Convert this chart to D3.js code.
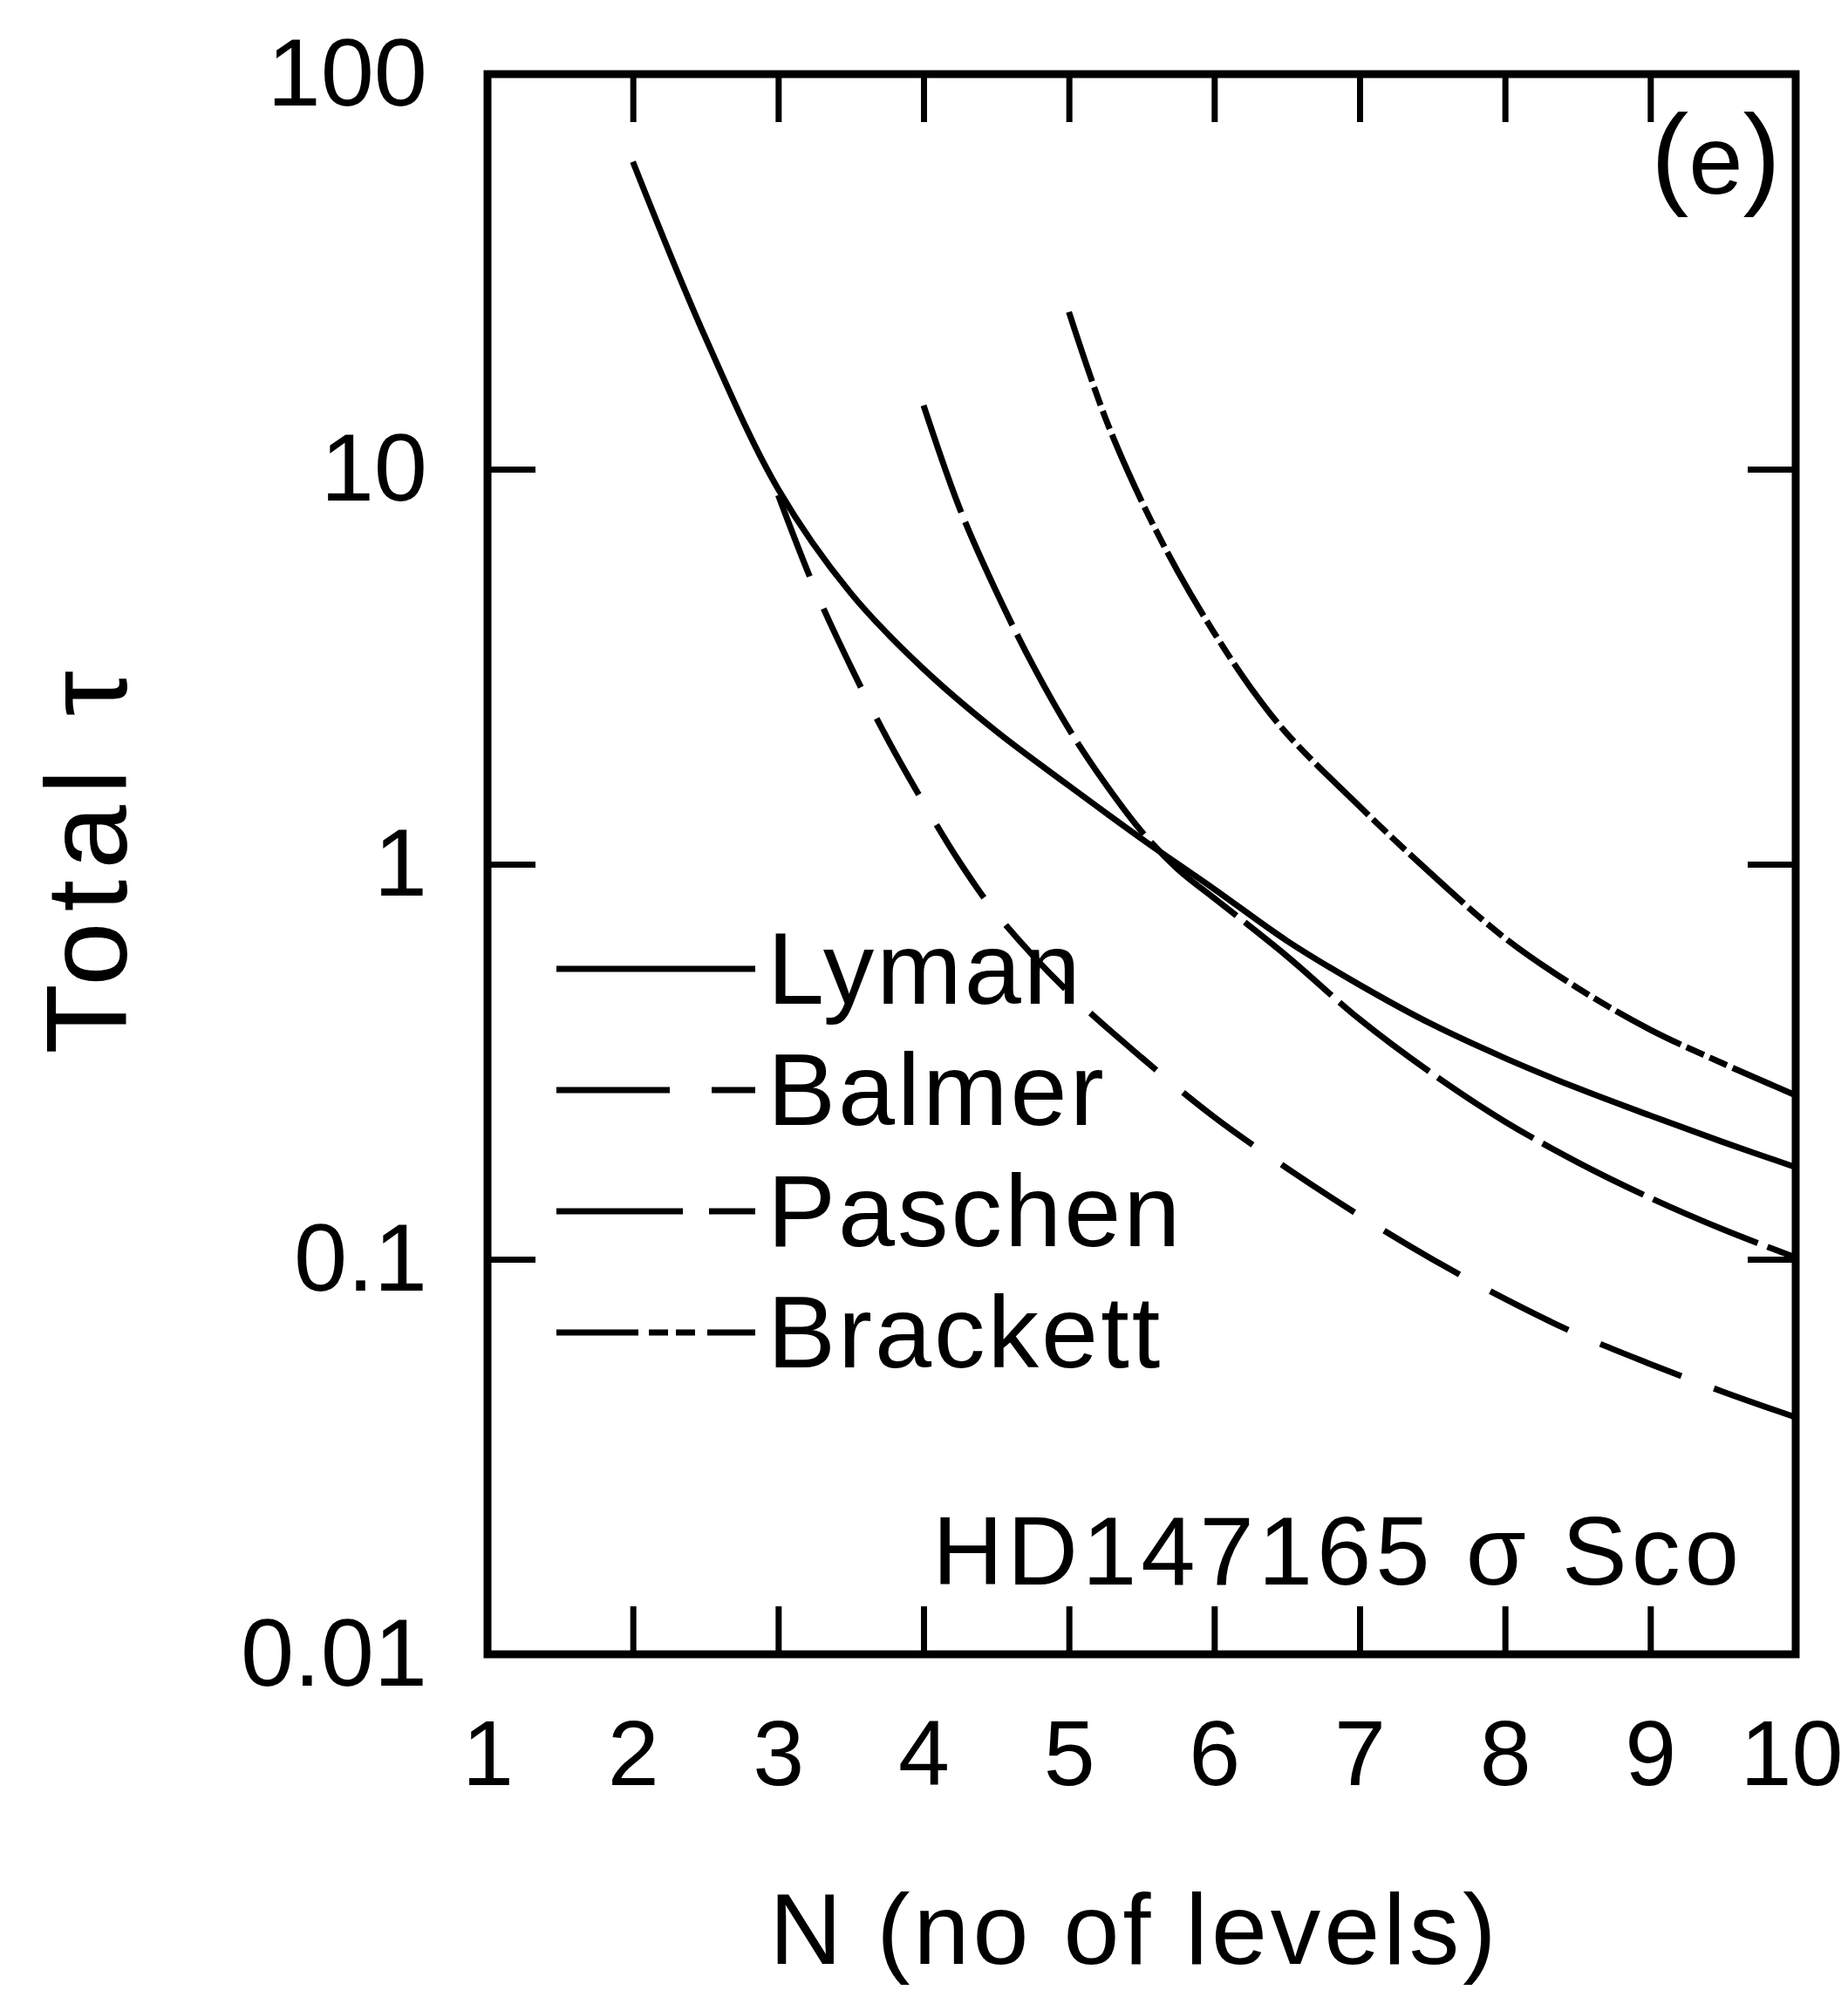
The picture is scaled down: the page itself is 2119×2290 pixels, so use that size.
<!DOCTYPE html>
<html>
<head>
<meta charset="utf-8">
<script src="https://cdn.jsdelivr.net/npm/d3@7"></script>
<style>
  html, body { margin: 0; padding: 0; background: #fff; }
  svg { display: block; }
</style>
</head>
<body>
<svg id="chart"></svg>
<script>
// Total optical depth of the hydrogen series versus number of levels, HD147165 (sigma Sco)
const seriesNames = ["Lyman", "Balmer", "Paschen", "Brackett"];

const levelsLyman = [2, 2.5, 3, 3.5, 4, 4.5, 5, 5.5, 6, 6.5, 7, 7.5, 8, 8.5, 9, 9.5, 10];
const tauLyman    = [60, 21.5, 8.9, 4.85, 3.12, 2.17, 1.58, 1.16, 0.865, 0.64, 0.495, 0.393, 0.323, 0.271, 0.231, 0.198, 0.171];

const levelsBalmer = [3, 3.25, 3.5, 3.75, 4, 4.25, 4.5, 5, 5.5, 6, 6.5, 7, 7.5, 8, 8.5, 9, 9.5, 10];
const tauBalmer    = [8.6, 5.0, 3.16, 2.08, 1.43, 1.01, 0.75, 0.473, 0.324, 0.229, 0.170, 0.129, 0.100, 0.0794, 0.0646, 0.0543, 0.0462, 0.0398];

const levelsPaschen = [4, 4.25, 4.5, 4.75, 5, 5.25, 5.5, 5.75, 6, 6.5, 7, 7.5, 8, 8.5, 9, 9.5, 10];
const tauPaschen    = [14.5, 7.93, 4.9, 3.2, 2.2, 1.6, 1.21, 0.97, 0.82, 0.585, 0.405, 0.295, 0.223, 0.176, 0.143, 0.119, 0.101];

const levelsBrackett = [5, 5.25, 5.5, 5.75, 6, 6.25, 6.5, 7, 7.5, 8, 8.5, 9, 9.5, 10];
const tauBrackett    = [25, 13.5, 8.3, 5.5, 3.85, 2.8, 2.14, 1.4, 0.94, 0.65, 0.486, 0.381, 0.313, 0.260];

const xTicks = [1, 2, 3, 4, 5, 6, 7, 8, 9, 10];
const xTickLabels = ["1", "2", "3", "4", "5", "6", "7", "8", "9", "10"];
const yTicks = [0.01, 0.1, 1, 10, 100];
const yTickLabels = ["0.01", "0.1", "1", "10", "100"];

const W = 2119, H = 2290;
const FONT = "'Liberation Sans', Arial, Helvetica, sans-serif";
const plot = { left: 559, right: 2059, top: 85, bottom: 1897 };

const svg = d3.select("#chart").attr("width", W).attr("height", H)
  .attr("viewBox", `0 0 ${W} ${H}`);
svg.append("rect").attr("width", W).attr("height", H).attr("fill", "#fff");

const x = d3.scaleLinear().domain([1, 10]).range([plot.left, plot.right]);
const y = d3.scaleLog().domain([0.01, 100]).range([plot.bottom, plot.top]);

// line styles per series
const styles = {
  Lyman:    { curveDash: null,                 legendDash: null },
  Balmer:   { curveDash: "100,40",             legendDash: "130,48" },
  Paschen:  { curveDash: "130,12",             legendDash: "145,30" },
  Brackett: { curveDash: "84,7,22,7,22,7",     legendDash: "94,12,22,9,22,14" }
};

const series = [
  { name: seriesNames[0], levels: levelsLyman,    tau: tauLyman },
  { name: seriesNames[1], levels: levelsBalmer,   tau: tauBalmer },
  { name: seriesNames[2], levels: levelsPaschen,  tau: tauPaschen },
  { name: seriesNames[3], levels: levelsBrackett, tau: tauBrackett }
];

// axes with inward ticks on all four sides
function styleAxis(g, size) {
  g.select(".domain").remove();
  g.selectAll(".tick line").attr("stroke", "#000").attr("stroke-width", 7);
  g.attr("font-family", FONT).attr("font-size", size);
  g.selectAll(".tick text").attr("fill", "#000");
}

const bottomAxis = svg.append("g")
  .attr("transform", `translate(0,${plot.bottom})`)
  .call(d3.axisBottom(x).tickValues(xTicks)
    .tickFormat((d, i) => xTickLabels[i]).tickSize(-55).tickPadding(75))
  .call(g => styleAxis(g, 106));
// keep the last label inside the page
bottomAxis.selectAll(".tick text").filter(d => d === 10).attr("dx", -5);

svg.append("g")
  .attr("transform", `translate(0,${plot.top})`)
  .call(d3.axisTop(x).tickValues(xTicks.slice(1, -1)).tickFormat("").tickSize(-55))
  .call(g => styleAxis(g, 106));

svg.append("g")
  .attr("transform", `translate(${plot.left},0)`)
  .call(d3.axisLeft(y).tickValues(yTicks)
    .tickFormat((d, i) => yTickLabels[i]).tickSize(-55).tickPadding(69))
  .call(g => styleAxis(g, 110));

svg.append("g")
  .attr("transform", `translate(${plot.right},0)`)
  .call(d3.axisRight(y).tickValues(yTicks).tickFormat("").tickSize(-55))
  .call(g => styleAxis(g, 110));

// plot frame
svg.append("rect")
  .attr("x", plot.left).attr("y", plot.top)
  .attr("width", plot.right - plot.left).attr("height", plot.bottom - plot.top)
  .attr("fill", "none").attr("stroke", "#000").attr("stroke-width", 9);

// curves
const line = d3.line()
  .x(d => x(d[0]))
  .y(d => y(d[1]))
  .curve(d3.curveCatmullRom.alpha(0.5));

svg.append("g").selectAll("path")
  .data(series)
  .join("path")
  .attr("d", s => line(s.levels.map((n, i) => [n, s.tau[i]])))
  .attr("fill", "none")
  .attr("stroke", "#000")
  .attr("stroke-width", 7)
  .attr("stroke-linecap", "butt")
  .attr("stroke-dasharray", s => styles[s.name].curveDash);

// legend
const legend = svg.append("g");
const legendRow = 139;
series.forEach((s, i) => {
  const ly = 1111 + i * legendRow;
  legend.append("line")
    .attr("x1", 638).attr("x2", 866).attr("y1", ly).attr("y2", ly)
    .attr("stroke", "#000").attr("stroke-width", 7)
    .attr("stroke-dasharray", styles[s.name].legendDash);
  legend.append("text")
    .attr("x", 880).attr("y", 1151 + i * legendRow)
    .attr("font-family", FONT).attr("font-size", 117)
    .attr("letter-spacing", 3)
    .text(s.name);
});

// panel tag
const tag = svg.append("text")
  .attr("x", 1893).attr("y", 222)
  .attr("font-family", FONT);
tag.append("tspan").attr("font-size", 130).text("(");
tag.append("tspan").attr("font-size", 112).text("e");
tag.append("tspan").attr("font-size", 130).text(")");

// star name
svg.append("text")
  .attr("x", 1999).attr("y", 1817)
  .attr("text-anchor", "end")
  .attr("font-family", FONT).attr("font-size", 112)
  .attr("letter-spacing", 5)
  .text("HD147165 σ Sco");

// axis titles
svg.append("text")
  .attr("x", 1301).attr("y", 2252)
  .attr("text-anchor", "middle")
  .attr("font-family", FONT).attr("font-size", 115)
  .attr("letter-spacing", 4)
  .text("N (no of levels)");

svg.append("text")
  .attr("transform", "translate(145,983) rotate(-90)")
  .attr("text-anchor", "middle")
  .attr("font-family", FONT).attr("font-size", 132)
  .attr("letter-spacing", 12)
  .text("Total τ");
</script>
</body>
</html>
